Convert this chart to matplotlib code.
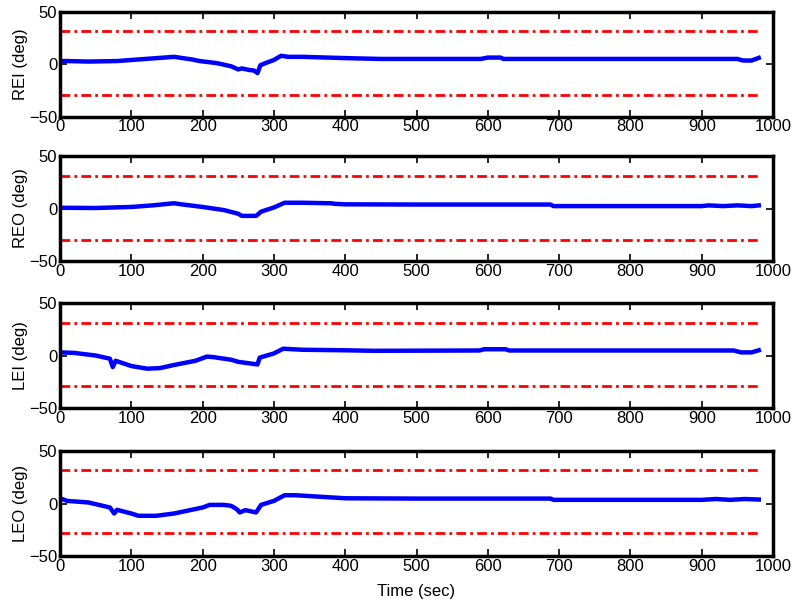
import matplotlib
matplotlib.use("Agg")
import matplotlib.pyplot as plt

plt.rcParams['font.family'] = ['Liberation Sans', 'DejaVu Sans']
plt.rcParams['font.size'] = 12
plt.rcParams['lines.scale_dashes'] = False

# Angulos dos olhos (graus) ao longo do tempo (s)
t_rei = [0, 10, 40, 80, 100, 130, 160, 185, 196, 220, 240, 250, 255, 265, 272, 277, 281, 288,
         300, 310, 320, 340, 400, 450, 590, 600, 618, 622, 950, 958, 970, 980]
rei = [3, 3, 2.5, 3, 4, 5.5, 7, 4.5, 3, 1, -2, -5, -4, -5.5, -6, -8.5, -1, 1,
       4, 8, 7, 7, 5.8, 5, 5, 6.3, 6.3, 5, 5, 3.5, 3.5, 6]

t_reo = [0, 50, 100, 130, 160, 170, 200, 230, 250, 255, 275, 282, 300, 315, 340, 380, 385,
         400, 500, 688, 692, 900, 910, 930, 950, 970, 980]
reo = [0.7, 0.5, 1.5, 3, 5, 4, 1.5, -1.5, -5, -7, -7, -3, 1, 5.5, 5.5, 5, 4.5,
       4, 3.8, 3.8, 2.3, 2.3, 3, 2.3, 3, 2.3, 3]

t_lei = [0, 20, 50, 70, 74, 78, 100, 122, 140, 160, 190, 206, 215, 240, 250, 266, 277, 280,
         300, 313, 340, 400, 440, 588, 595, 625, 630, 945, 955, 970, 980]
lei = [3, 2.5, 0, -3, -11, -5, -10, -12.5, -12, -9, -5, -1, -1.5, -4, -6, -7.5, -8.5, -2,
       2, 6.5, 5.5, 5, 4.5, 4.8, 6, 6, 4.8, 4.8, 3, 3, 5]

t_leo = [0, 10, 40, 70, 76, 80, 100, 110, 135, 160, 200, 210, 230, 240, 248, 252, 260, 275,
         282, 300, 315, 330, 400, 500, 688, 692, 900, 920, 940, 960, 980]
leo = [5, 2.5, 1, -3.8, -9.5, -6, -9.5, -11.7, -11.7, -9.5, -3.8, -1.3, -1.3, -2.2, -5.4, -8.5, -6.3, -8.5,
       -1.3, 2.5, 7.9, 7.9, 5, 4.7, 4.7, 3.5, 3.5, 4.3, 3.5, 4.3, 3.8]

# Limites superior / inferior de cada canal
lim_sup = [32, 31, 31, 32]
lim_inf = [-29, -30, -29, -28.5]

nomes = ['REI (deg)', 'REO (deg)', 'LEI (deg)', 'LEO (deg)']
tempos = [t_rei, t_reo, t_lei, t_leo]
series = [rei, reo, lei, leo]

fig = plt.figure(figsize=(7.98, 6.09), dpi=100)
baixos = [0.8084, 0.5714, 0.330, 0.0870]

for i in range(4):
    ax = fig.add_axes([0.0752, baixos[i], 0.8935, 0.1724])
    t = tempos[i]
    ax.plot(t, series[i], color=(0, 0, 1), linewidth=3.2, solid_joinstyle='round')
    ax.plot([t[0], t[-1]], [lim_sup[i], lim_sup[i]], color=(1, 0, 0), linewidth=2,
            linestyle=(0, (7, 3, 2, 3)))
    ax.plot([t[0], t[-1]], [lim_inf[i], lim_inf[i]], color=(1, 0, 0), linewidth=2,
            linestyle=(0, (7, 3, 2, 3)))
    ax.set_xlim(0, 1000)
    ax.set_ylim(-50, 50)
    ax.set_xticks(range(0, 1001, 100))
    ax.set_yticks([-50, 0, 50])
    ax.tick_params(direction='in', length=5, width=1.2, top=True, right=True, pad=2,
                   labelsize=12)
    for s in ax.spines.values():
        s.set_linewidth(2.5)
    ax.set_ylabel(nomes[i], fontsize=12)
    ax.yaxis.set_label_coords(-0.045, 0.5)
    if i == 3:
        ax.set_xlabel('Time (sec)', fontsize=12)
        ax.xaxis.set_label_coords(0.5, -0.27)

fig.savefig('out.png', dpi=100)
